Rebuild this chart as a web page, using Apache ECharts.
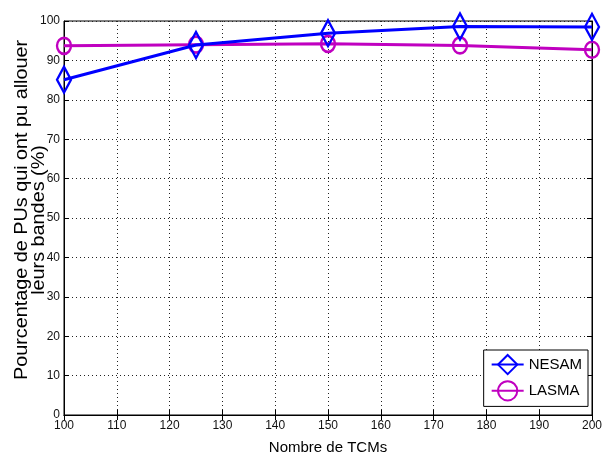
<!DOCTYPE html>
<html><head><meta charset="utf-8">
<script src="https://cdn.jsdelivr.net/npm/echarts@6/dist/echarts.min.js"></script>
<style>html,body{margin:0;padding:0;background:#fff}#c{width:607px;height:456px}</style>
</head><body><div id="c"></div>
<script>
var xValues = [100, 125, 150, 175, 200];
var nesam = [85.1, 93.9, 96.9, 98.6, 98.5];
var lasma = [93.7, 94.0, 94.2, 93.8, 92.7];
var xTicks = {min: 100, max: 200, interval: 10};
var yTicks = {min: 0, max: 100, interval: 10};
var yTitleLines = ['Pourcentage de PUs qui ont pu allouer', 'leurs bandes (%)'];

var chart = echarts.init(document.getElementById('c'), null, {renderer: 'canvas'});
var font = 'Liberation Sans, Arial, sans-serif';
function pairs(xs, ys) { return xs.map(function (x, i) { return [x, ys[i]]; }); }
var dotted = {show: true, lineStyle: {type: [1, 3], color: '#222', width: 1}};
chart.setOption({
  animation: false,
  backgroundColor: '#fff',
  grid: {left: 64, right: 15, top: 21, bottom: 41, show: true, borderColor: '#000', borderWidth: 1,
         containLabel: false, outerBoundsMode: 'none'},
  graphic: [{
    type: 'text', x: 22, y: 210, rotation: Math.PI / 2, scaleX: 1.1,
    style: {text: yTitleLines[0], fontSize: 18, fontFamily: font, fill: '#000', align: 'center', verticalAlign: 'middle'}
  }, {
    type: 'text', x: 39, y: 220, rotation: Math.PI / 2, scaleX: 1.1,
    style: {text: yTitleLines[1], fontSize: 18, fontFamily: font, fill: '#000', align: 'center', verticalAlign: 'middle'}
  }],
  xAxis: [{
    type: 'value', min: xTicks.min, max: xTicks.max, interval: xTicks.interval,
    position: 'bottom',
    axisLine: {show: true, lineStyle: {color: '#000'}},
    axisTick: {show: true, inside: true, length: 5, lineStyle: {color: '#000'}},
    axisLabel: {color: '#111', fontFamily: font, fontSize: 12, margin: 5},
    splitLine: dotted,
    name: 'Nombre de TCMs', nameLocation: 'middle', nameGap: 25, nameMoveOverlap: false,
    nameTextStyle: {color: '#000', fontFamily: font, fontSize: 15}
  }, {
    type: 'value', min: xTicks.min, max: xTicks.max, interval: xTicks.interval,
    position: 'top',
    axisLine: {show: true, lineStyle: {color: '#000'}},
    axisTick: {show: true, inside: true, length: 5, lineStyle: {color: '#000'}},
    axisLabel: {show: false}, splitLine: {show: false}
  }],
  yAxis: [{
    type: 'value', min: yTicks.min, max: yTicks.max, interval: yTicks.interval,
    position: 'left',
    axisLine: {show: true, lineStyle: {color: '#000'}},
    axisTick: {show: true, inside: true, length: 5, lineStyle: {color: '#000'}},
    axisLabel: {color: '#111', fontFamily: font, fontSize: 12, margin: 4},
    splitLine: dotted
  }, {
    type: 'value', min: yTicks.min, max: yTicks.max, interval: yTicks.interval,
    position: 'right',
    axisLine: {show: true, lineStyle: {color: '#000'}},
    axisTick: {show: true, inside: true, length: 5, lineStyle: {color: '#000'}},
    axisLabel: {show: false}, splitLine: {show: false}
  }],
  legend: {
    orient: 'vertical', right: 19, top: 350,
    backgroundColor: '#fff', borderColor: '#000', borderWidth: 1,
    padding: [4, 6, 5, 7], itemGap: 5, itemWidth: 32, itemHeight: 24,
    textStyle: {color: '#000', fontFamily: font, fontSize: 15},
    data: ['NESAM', 'LASMA']
  },
  series: [{
    name: 'NESAM', type: 'line', data: pairs(xValues, nesam),
    symbol: 'diamond', symbolSize: [14, 26],
    lineStyle: {color: '#0000ff', width: 3},
    itemStyle: {color: '#0000ff', borderColor: '#0000ff', borderWidth: 2.5},
    z: 3
  }, {
    name: 'LASMA', type: 'line', data: pairs(xValues, lasma),
    symbol: 'circle', symbolSize: [14, 16],
    lineStyle: {color: '#c000c0', width: 3},
    itemStyle: {color: '#c000c0', borderColor: '#c000c0', borderWidth: 2.5},
    z: 2
  }]
});
chart.setOption({series: [
  {itemStyle: {color: 'rgba(0,0,0,0)'}},
  {itemStyle: {color: 'rgba(0,0,0,0)'}}
]});
</script></body></html>
